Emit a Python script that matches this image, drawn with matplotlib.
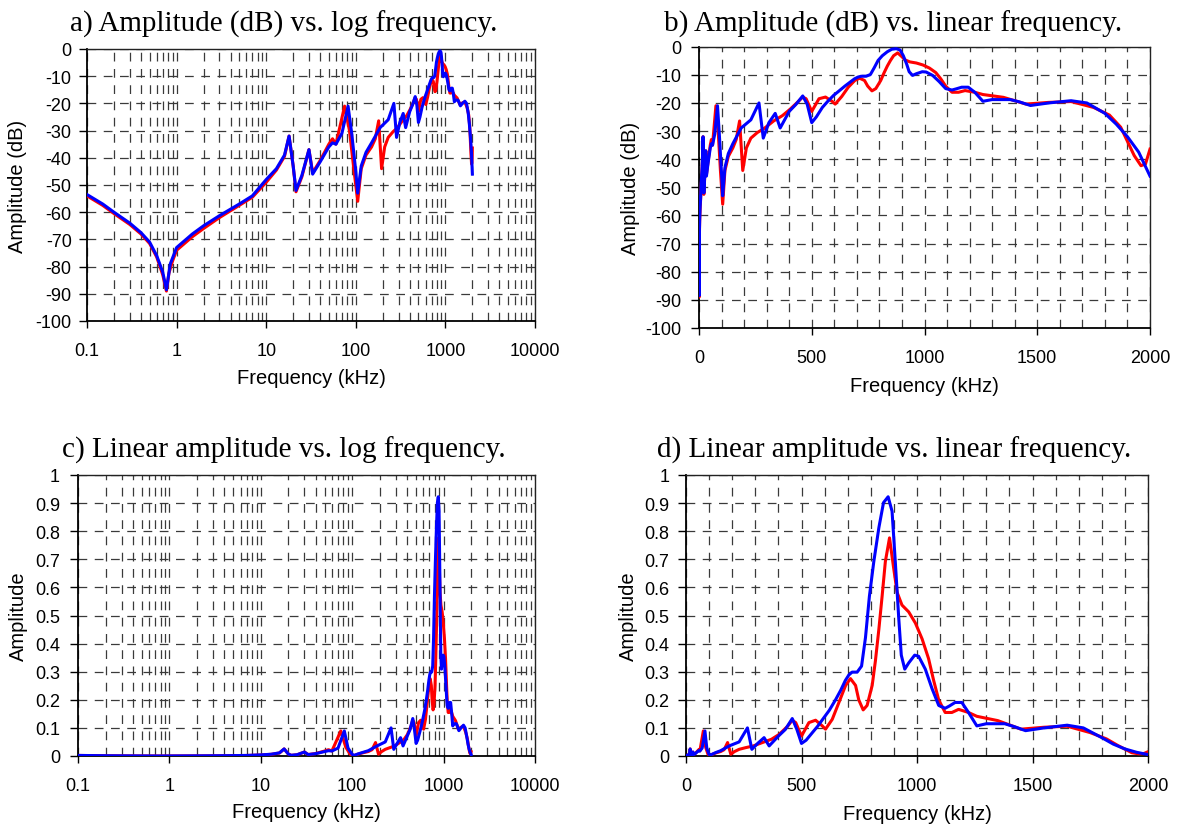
import numpy as np
import matplotlib
matplotlib.use('Agg')
import matplotlib.pyplot as plt
from matplotlib.ticker import FixedLocator, NullFormatter, FixedFormatter, MultipleLocator

plt.rcParams['axes.unicode_minus'] = False
plt.rcParams['font.family'] = ['Liberation Sans', 'DejaVu Sans']

# ---------------- data ----------------
blue_freq_khz = [0.1, 0.15, 0.2, 0.3, 0.4, 0.5, 0.6, 0.7, 0.77, 0.85, 1.0, 1.5, 2, 3, 5, 7, 10, 13,
                 16, 18, 20, 21.5, 25, 30, 33, 40, 50, 55, 60, 70, 82, 90, 100, 105, 115, 130, 150,
                 187, 230, 266, 285, 310, 338, 360, 400, 430, 460, 480, 500, 520, 547, 570, 597,
                 620, 647, 670, 690, 705, 719, 741, 760, 777, 794, 813, 835, 855, 875, 892, 906,
                 921, 932, 947, 964, 990, 1007, 1036, 1065, 1094, 1122, 1140, 1165, 1194, 1223,
                 1259, 1300, 1380, 1420, 1470, 1550, 1650, 1720, 1800, 1850, 1900, 1950, 2000]
blue_amp_db = [-53.5, -57, -60, -64, -67.5, -71, -76, -82, -88.5, -79, -73, -68, -65, -61.3, -57,
               -54, -48, -44, -39, -32, -43, -52, -46.5, -37, -46, -41.5, -36, -34.5, -35, -31,
               -21, -31, -45, -53, -43, -38, -34.5, -28.9, -26, -20, -32.5, -27, -23.7, -28.9,
               -23, -20.5, -17.5, -20.5, -27, -25, -21.6, -19.5, -17.3, -15.8, -14, -12.6, -11.4,
               -10.8, -10.5, -10.5, -9.9, -7.5, -4.9, -3.2, -1.8, -0.9, -0.7, -1.2, -3.2, -6.2,
               -8.9, -10.2, -9.6, -8.9, -9.0, -10.2, -12.4, -14.9, -15.4, -15.0, -14.4, -14.4,
               -16.2, -19.4, -18.8, -18.8, -19.6, -20.9, -20, -19.2, -20, -23.7, -27.5, -32,
               -37.5, -46]

red_freq_khz = [0.1, 0.15, 0.2, 0.3, 0.4, 0.5, 0.6, 0.7, 0.77, 0.82, 0.9, 1.0, 1.5, 2, 3, 5, 7, 10,
                13, 16, 18, 20, 21.5, 25, 30, 33, 40, 50, 55, 60, 75, 85, 95, 105, 115, 130, 150,
                165, 180, 194, 210, 230, 259, 290, 331, 370, 403, 440, 460, 475, 500, 532, 561,
                590, 604, 633, 662, 691, 712, 734, 748, 767, 784, 806, 820, 835, 849, 863, 881,
                899, 914, 935, 964, 993, 1022, 1050, 1072, 1094, 1122, 1151, 1180, 1223, 1259,
                1350, 1450, 1550, 1650, 1750, 1820, 1870, 1930, 1960, 1980, 2000]
red_amp_db = [-54, -57.5, -60.5, -64.5, -68, -71.5, -76.5, -83, -89, -82.5, -78, -74, -69, -66,
              -62, -57.5, -54.5, -49, -44.5, -39.5, -32, -43, -52.5, -47, -37, -45.5, -41, -35,
              -33, -35, -21, -30, -44, -56, -44, -39, -36, -33, -26.4, -44, -36, -32.5, -30.5,
              -29, -26.4, -24.5, -22.3, -19.5, -17.9, -18.5, -23, -18.5, -17.9, -19.4, -20.4,
              -17.7, -14.4, -12, -11.2, -12, -14, -15.7, -14.9, -12, -9.4, -6.9, -4.9, -3.2,
              -2.2, -3.5, -4.7, -5.4, -5.8, -6.5, -7.6, -9.2, -11.4, -14, -16.2, -16.2, -15.6,
              -16.2, -17, -18, -20.4, -19.8, -19.5, -21.6, -24.3, -28.6, -38.7, -42.3, -41.7,
              -36.4]

db_ticks = [0, -10, -20, -30, -40, -50, -60, -70, -80, -90, -100]
lin_amp_ticks = [0, 0.1, 0.2, 0.3, 0.4, 0.5, 0.6, 0.7, 0.8, 0.9, 1]
lin_amp_labels = ['0', '0.1', '0.2', '0.3', '0.4', '0.5', '0.6', '0.7', '0.8', '0.9', '1']
log_freq_ticks = [0.1, 1, 10, 100, 1000, 10000]
log_freq_labels = ['0.1', '1', '10', '100', '1000', '10000']
lin_freq_ticks = [0, 500, 1000, 1500, 2000]

titles = ['a) Amplitude (dB) vs. log frequency.',
          'b) Amplitude (dB) vs. linear frequency.',
          'c) Linear amplitude vs. log frequency.',
          'd) Linear amplitude vs. linear frequency.']
xlabel_text = 'Frequency (kHz)'
ylabel_db = 'Amplitude (dB)'
ylabel_lin = 'Amplitude'

# linear amplitude derived from the dB readings
blue_amp_lin = 10 ** (np.array(blue_amp_db) / 20.0)
red_amp_lin = 10 ** (np.array(red_amp_db) / 20.0)

# ---------------- figure ----------------
W, H = 1182, 828
fig = plt.figure(figsize=(W / 100, H / 100), dpi=100)


def ax_at(l, t, r, b):
    return fig.add_axes([l / W, 1 - b / H, (r - l) / W, (b - t) / H])


GRID = dict(color='#3a3a3a', linewidth=0.9, linestyle=(0, (7, 6)))
TICK_FS = 13
LABEL_FS = 14.5
TITLE_FS = 21


def style(ax, logx, dbscale, ypad):
    if logx:
        ax.set_xscale('log')
        ax.set_xlim(0.1, 10000)
        ax.xaxis.set_major_locator(FixedLocator(log_freq_ticks))
        ax.xaxis.set_major_formatter(FixedFormatter(log_freq_labels))
        minors = [m * d for d in [0.1, 1, 10, 100, 1000] for m in range(2, 10)]
        ax.xaxis.set_minor_locator(FixedLocator(minors))
        ax.xaxis.set_minor_formatter(NullFormatter())
    else:
        ax.set_xlim(0, 2000)
        ax.xaxis.set_major_locator(FixedLocator(lin_freq_ticks))
        ax.xaxis.set_minor_locator(MultipleLocator(100))
    if dbscale:
        ax.set_ylim(-100, 0)
        ax.yaxis.set_major_locator(FixedLocator(db_ticks))
    else:
        ax.set_ylim(0, 1)
        ax.yaxis.set_major_locator(FixedLocator(lin_amp_ticks))
        ax.yaxis.set_major_formatter(FixedFormatter(lin_amp_labels))
    ax.set_axisbelow(True)
    ax.grid(True, which='major', axis='both', **GRID)
    ax.grid(True, which='minor', axis='x', **GRID)
    ax.tick_params(axis='x', which='major', direction='out', length=5, width=1,
                   labelsize=TICK_FS, pad=10)
    ax.tick_params(axis='x', which='minor', length=0)
    ax.tick_params(axis='y', which='major', direction='out', length=6, width=1,
                   labelsize=TICK_FS, pad=ypad)
    for s in ['left', 'bottom']:
        ax.spines[s].set_linewidth(1.3)
        ax.spines[s].set_color('black')
    for s in ['top', 'right']:
        ax.spines[s].set_linewidth(1.0)
        ax.spines[s].set_color('#222222')


axA = ax_at(87, 50, 535, 322)
axB = ax_at(699, 47.7, 1150, 329)
axC = ax_at(78, 476, 535, 757)
axD = ax_at(686, 476, 1148, 757)

LW = 2.2
for ax, rdat, bdat in [(axA, red_amp_db, blue_amp_db), (axB, red_amp_db, blue_amp_db),
                       (axC, red_amp_lin, blue_amp_lin), (axD, red_amp_lin, blue_amp_lin)]:
    ax.plot(red_freq_khz, rdat, color='#ff0000', lw=LW, zorder=3,
            solid_joinstyle='round')
    ax.plot(blue_freq_khz, bdat, color='#0000ff', lw=LW, zorder=4,
            solid_joinstyle='round')

style(axA, True, True, 5)
style(axB, False, True, 7)
style(axC, True, False, 7)
style(axD, False, False, 6)


def ftext(x, y, s, **kw):
    fig.text(x / W, 1 - y / H, s, **kw)


serif = ['Liberation Serif', 'DejaVu Serif']
ftext(284, 32, titles[0], family=serif, fontsize=TITLE_FS, ha='center', va='baseline')
ftext(893, 32, titles[1], family=serif, fontsize=TITLE_FS, ha='center', va='baseline')
ftext(284, 458, titles[2], family=serif, fontsize=TITLE_FS, ha='center', va='baseline')
ftext(894, 458, titles[3], family=serif, fontsize=TITLE_FS, ha='center', va='baseline')

ftext(311, 378, xlabel_text, fontsize=LABEL_FS, ha='center', va='center')
ftext(924, 387, xlabel_text, fontsize=LABEL_FS, ha='center', va='center')
ftext(306, 813, xlabel_text, fontsize=LABEL_FS, ha='center', va='center')
ftext(917, 815, xlabel_text, fontsize=LABEL_FS, ha='center', va='center')

ftext(18, 186, ylabel_db, fontsize=LABEL_FS, ha='center', va='center', rotation=90)
ftext(631, 188, ylabel_db, fontsize=LABEL_FS, ha='center', va='center', rotation=90)
ftext(18, 616, ylabel_lin, fontsize=LABEL_FS, ha='center', va='center', rotation=90)
ftext(628, 616, ylabel_lin, fontsize=LABEL_FS, ha='center', va='center', rotation=90)

fig.savefig('out.png', dpi=100, facecolor='white')
